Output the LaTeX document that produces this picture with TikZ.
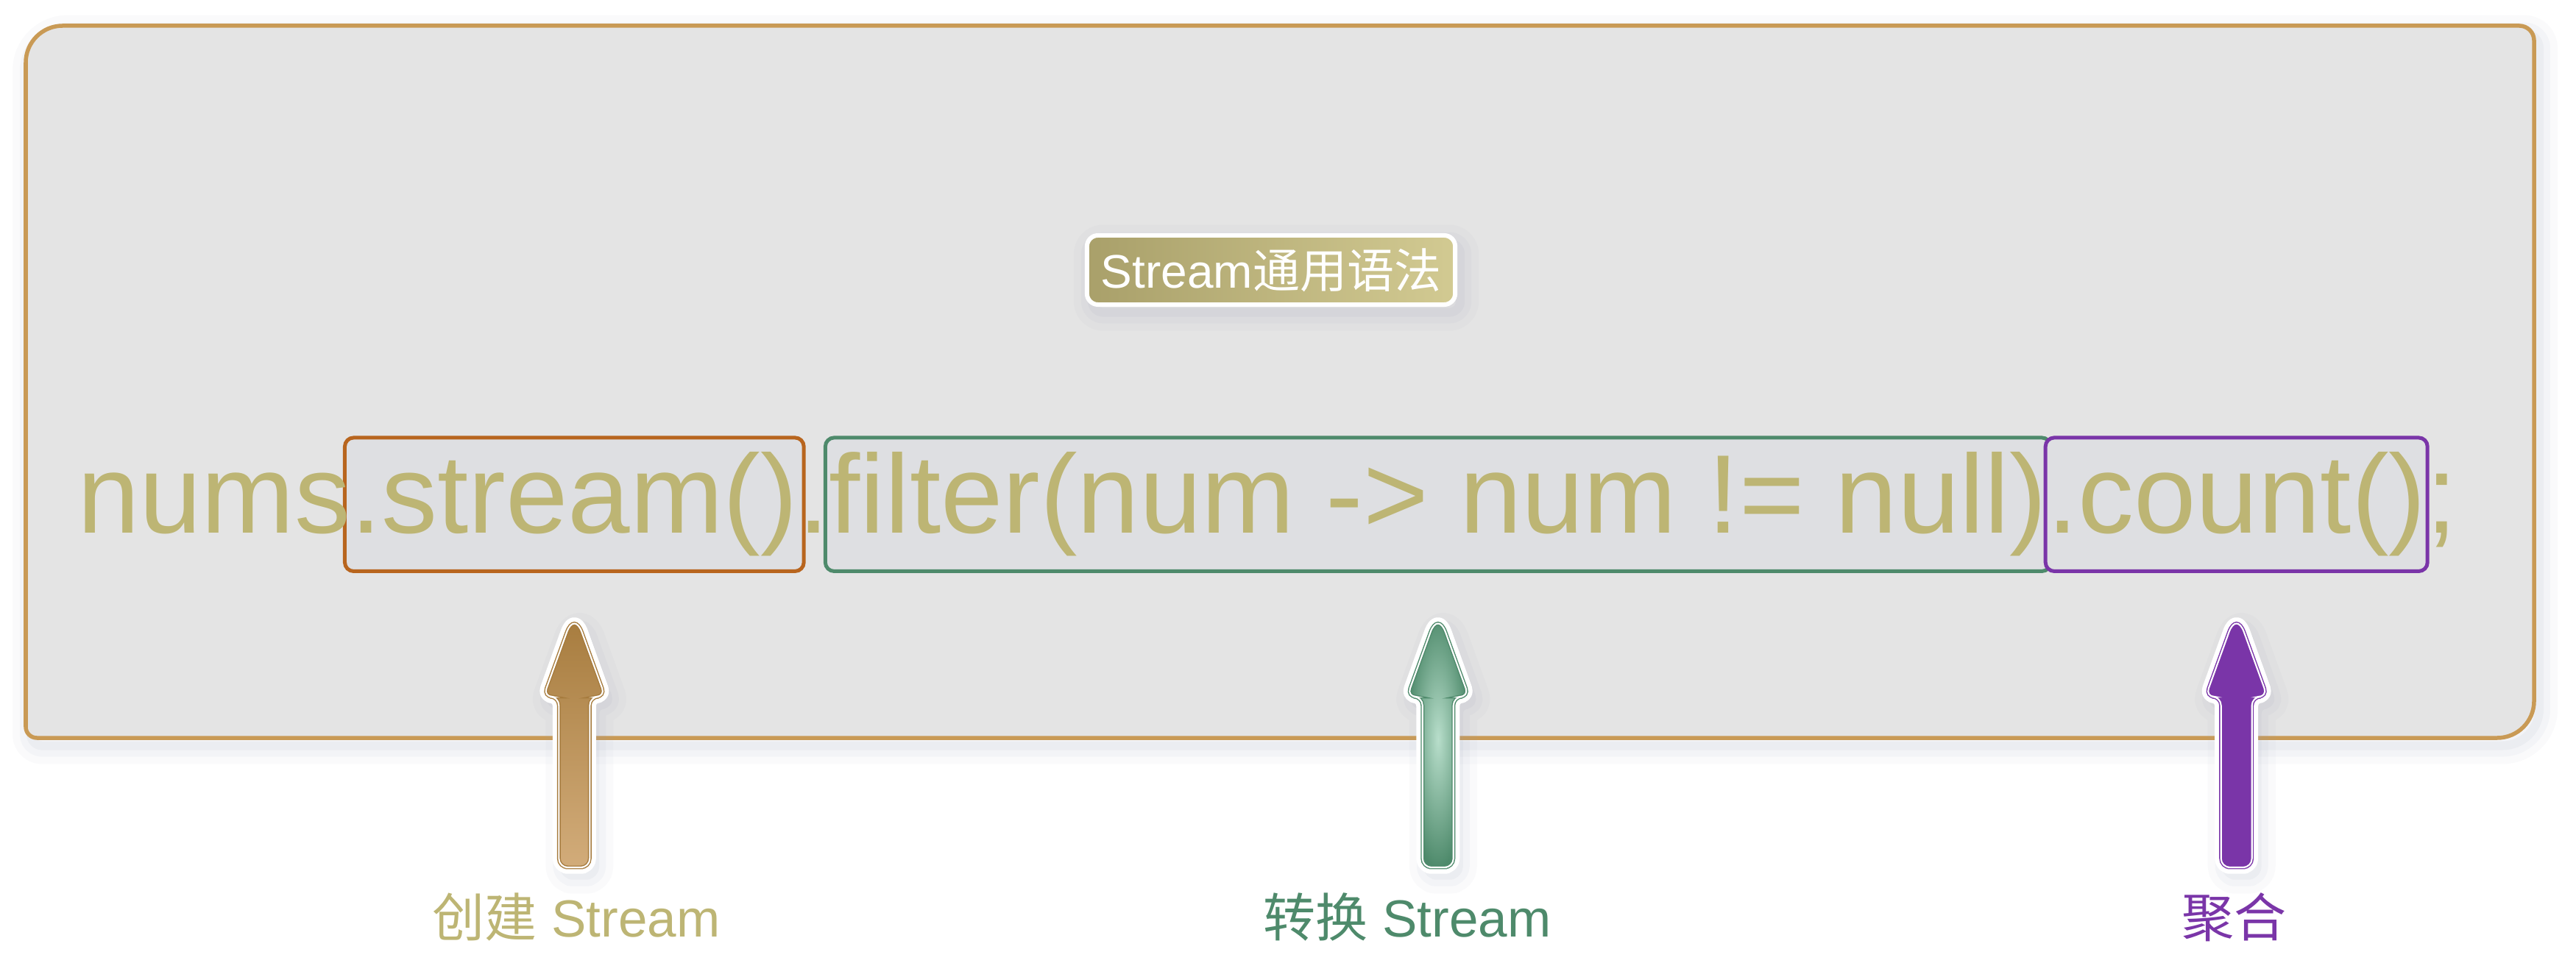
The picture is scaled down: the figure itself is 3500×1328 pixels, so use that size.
\documentclass[tikz,border=0pt]{standalone}
\usepackage{fontspec}
\setmainfont{Liberation Sans}
\newfontfamily\cjk{Noto Sans CJK SC}
\usetikzlibrary{positioning,fit,backgrounds}
\definecolor{panelgray}{HTML}{E4E4E4}
\definecolor{panelline}{HTML}{C99A55}
\definecolor{boxgray}{HTML}{DEDFE2}
\definecolor{shadowblue}{HTML}{9AA3B8}
\definecolor{codetext}{HTML}{BDB574}
\definecolor{createorange}{HTML}{B8651E}
\definecolor{filtergreen}{HTML}{4E8A6B}
\definecolor{greenlight}{HTML}{B8DECB}
\definecolor{countpurple}{HTML}{7A35A8}
\definecolor{arrowbrown}{HTML}{A67B3D}
\definecolor{arrowbrownlight}{HTML}{D2AC7A}
\definecolor{titledark}{HTML}{A9A06A}
\definecolor{titlelight}{HTML}{D2CA92}
\tikzset{
	code/.style={inner sep=0pt,outer sep=0pt,text=codetext,anchor=base west,font=\fontsize{43.2pt}{52pt}\selectfont},
	codebox/.style={draw=#1,line width=0.05cm,rounded corners=0.12cm,fill=boxgray,inner ysep=0.2cm},
	lbl/.style={anchor=base,font=\fontsize{20.2pt}{24pt}\selectfont},
	softshadow/.style={
		preaction={draw=shadowblue,draw opacity=0.05,line width=0.5cm,line join=round,transform canvas={xshift=2pt,yshift=-3pt}},
		preaction={draw=shadowblue,draw opacity=0.07,line width=0.3cm,line join=round,transform canvas={xshift=2pt,yshift=-3pt}},
		preaction={draw=shadowblue,draw opacity=0.09,line width=0.12cm,line join=round,transform canvas={xshift=2pt,yshift=-3pt}}},
	arrowhalo/.style={draw=white,fill=white,line width=0.17cm,line join=round,rounded corners=0.12cm,softshadow},
	arrowbody/.style={rounded corners=0.12cm,line width=0.4pt,double=white,double distance=0.6pt}
}
\newcommand\arrowshape[1]{(#1) ++(0,348) -- ++(21,0) -- ++(0,-232) -- ++(21,0) [rounded corners=0.3cm] -- (#1) [rounded corners=0.12cm] -- ++(-42,116) -- ++(21,0) -- ++(0,232) -- cycle}
\begin{document}
\begin{tikzpicture}[x=0.01cm,y=-0.01cm]
	\useasboundingbox (0,0) rectangle (3500,1328);
	%code line
	\node[code] (nums) at (105,725) {nums};
	\node[code] (stream) at (nums.base east) {.stream()};
	\node[code] (dot) at (stream.base east) {.};
	\node[code] (filter) at (dot.base east) {filter(num -> num != null)};
	\node[code] (count) at (filter.base east) {.count()};
	\node[code] (semi) at (count.base east) {;};
	\begin{scope}[on background layer]
		\draw[panelline,fill=panelgray,line width=0.055cm,softshadow]
		(35,500) [rounded corners=0.5cm] -- (35,35) [rounded corners=0.2cm] -- (3443,35) [rounded corners=0.5cm] -- (3443,1003) [rounded corners=0.15cm] -- (35,1003) -- cycle;
		\node[codebox=createorange,inner xsep=0.08cm,fit=(stream)] (createbox) {};
		\node[codebox=filtergreen,inner xsep=0.05cm,fit=(filter)] (filterbox) {};
		\node[codebox=countpurple,inner xsep=0.02cm,fit=(count)] (countbox) {};
	\end{scope}
	%title
	\node[draw=white,line width=0.06cm,rounded corners=0.15cm,left color=titledark,right color=titlelight,text=white,
		minimum width=5cm,minimum height=0.94cm,font=\fontsize{18.2pt}{22pt}\selectfont,softshadow] (title) at (1727,367) {Stream{\cjk 通用语法}};
	%arrows
	\coordinate[below=0.52cm of createbox.south] (createtip);
	\coordinate[below=0.52cm of filterbox.south] (filtertip);
	\coordinate[below=0.52cm of countbox.south] (counttip);
	\foreach \t in {createtip,filtertip,counttip}
	\draw[arrowhalo] \arrowshape{\t};
	\shade[arrowbody,draw=arrowbrown,top color=arrowbrown,bottom color=arrowbrownlight] \arrowshape{createtip};
	\shade[arrowbody,draw=filtergreen,inner color=greenlight,outer color=filtergreen] \arrowshape{filtertip};
	\draw[arrowbody,draw=countpurple,fill=countpurple] \arrowshape{counttip};
	%labels
	\node[lbl,text=codetext] (createlbl) at (783,1273) {{\cjk 创建} Stream};
	\node[lbl,text=filtergreen] (filterlbl) at (1912,1273) {{\cjk 转换} Stream};
	\node[lbl,text=countpurple] (countlbl) at (3035,1273) {\cjk 聚合};
\end{tikzpicture}
\end{document}
